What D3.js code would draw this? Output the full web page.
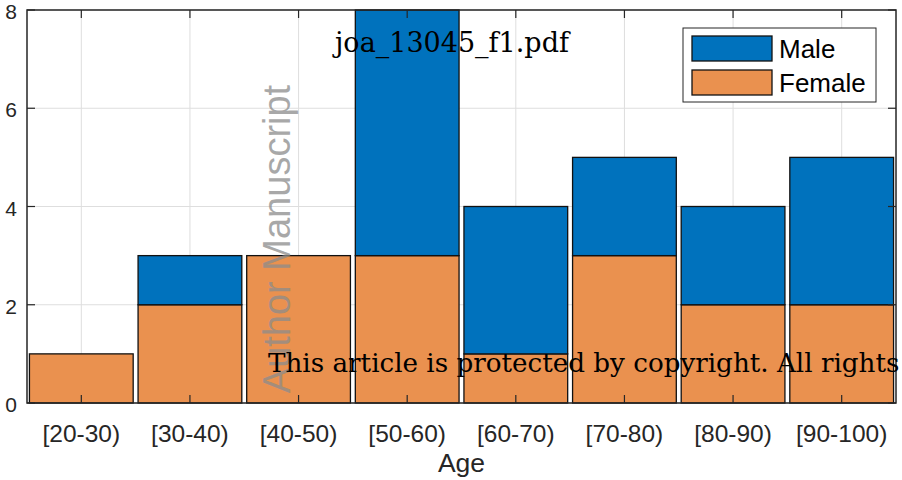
<!DOCTYPE html>
<html>
<head>
<meta charset="utf-8">
<script src="https://cdn.jsdelivr.net/npm/d3@7"></script>
<style>
  body { margin: 0; background: #fff; }
  svg { display: block; }
</style>
</head>
<body>
<svg id="chart" width="902" height="480"></svg>
<script>
// data
const categories = ["[20-30)", "[30-40)", "[40-50)", "[50-60)", "[60-70)", "[70-80)", "[80-90)", "[90-100)"];
const female = [1, 2, 3, 3, 1, 3, 2, 2];
const male = [0, 1, 0, 5, 3, 2, 2, 3];
const yTicks = [0, 2, 4, 6, 8];
const seriesNames = ["Male", "Female"];

const colors = { Male: "#0072BD", Female: "#EA914F" };

let margin = {top: 10, right: 6, bottom: 77, left: 27},
  width = 902 - margin.left - margin.right,
  height = 480 - margin.top - margin.bottom;

let svg = d3.select("#chart");
let g = svg.append("g").attr("transform", `translate(${margin.left}, ${margin.top})`);

let x = d3.scaleBand()
  .domain(categories)
  .range([0, width])
  .paddingInner(0.045)
  .paddingOuter(0.0225);

let y = d3.scaleLinear()
  .domain([0, 8])
  .range([height, 0]);

// grid
g.selectAll(".vgrid")
  .data(categories)
  .join("line")
  .attr("class", "vgrid")
  .attr("x1", d => x(d) + x.bandwidth() / 2)
  .attr("x2", d => x(d) + x.bandwidth() / 2)
  .attr("y1", 0)
  .attr("y2", height)
  .attr("stroke", "#dedede")
  .attr("stroke-width", 1);

g.selectAll(".hgrid")
  .data(yTicks)
  .join("line")
  .attr("class", "hgrid")
  .attr("x1", 0)
  .attr("x2", width)
  .attr("y1", d => y(d))
  .attr("y2", d => y(d))
  .attr("stroke", "#dedede")
  .attr("stroke-width", 1);

// stacked bars, female at the bottom
let rows = categories.map((c, i) => ({cat: c, Female: female[i], Male: male[i]}));
let stack = d3.stack().keys(["Female", "Male"])(rows);

g.selectAll(".layer")
  .data(stack)
  .join("g")
  .attr("class", "layer")
  .attr("fill", d => colors[d.key])
  .selectAll("rect")
  .data(d => d.filter(p => p[1] > p[0]))
  .join("rect")
  .attr("x", d => x(d.data.cat))
  .attr("y", d => y(d[1]))
  .attr("width", x.bandwidth())
  .attr("height", d => y(d[0]) - y(d[1]))
  .attr("stroke", "#111")
  .attr("stroke-width", 1.3);

// axes box with inward ticks
let axisColor = "#262626";
let xCenters = categories.map(c => x(c) + x.bandwidth() / 2);

g.append("rect")
  .attr("x", 0).attr("y", 0)
  .attr("width", width).attr("height", height)
  .attr("fill", "none")
  .attr("stroke", axisColor)
  .attr("stroke-width", 1.5);

xCenters.forEach(cx => {
  g.append("line").attr("x1", cx).attr("x2", cx).attr("y1", height).attr("y2", height - 8)
    .attr("stroke", axisColor).attr("stroke-width", 1.2);
  g.append("line").attr("x1", cx).attr("x2", cx).attr("y1", 0).attr("y2", 8)
    .attr("stroke", axisColor).attr("stroke-width", 1.2);
});
yTicks.forEach(t => {
  g.append("line").attr("x1", 0).attr("x2", 8).attr("y1", y(t)).attr("y2", y(t))
    .attr("stroke", axisColor).attr("stroke-width", 1.2);
  g.append("line").attr("x1", width).attr("x2", width - 8).attr("y1", y(t)).attr("y2", y(t))
    .attr("stroke", axisColor).attr("stroke-width", 1.2);
});

// tick labels
g.selectAll(".xlabel")
  .data(categories)
  .join("text")
  .attr("class", "xlabel")
  .attr("x", d => x(d) + x.bandwidth() / 2)
  .attr("y", height + 39)
  .attr("text-anchor", "middle")
  .attr("font-family", "Liberation Sans, Arial, sans-serif")
  .attr("font-size", 24.5)
  .attr("fill", axisColor)
  .text(d => d);

g.selectAll(".ylabel")
  .data(yTicks)
  .join("text")
  .attr("class", "ylabel")
  .attr("x", -10)
  .attr("y", d => y(d) + 9)
  .attr("text-anchor", "end")
  .attr("font-family", "Liberation Sans, Arial, sans-serif")
  .attr("font-size", 21)
  .attr("fill", axisColor)
  .text(d => d);

g.append("text")
  .attr("x", width / 2)
  .attr("y", height + 69)
  .attr("text-anchor", "middle")
  .attr("font-family", "Liberation Sans, Arial, sans-serif")
  .attr("font-size", 26.5)
  .attr("fill", axisColor)
  .text("Age");

// legend
let legend = svg.append("g").attr("transform", "translate(683, 28)");
legend.append("rect")
  .attr("width", 193).attr("height", 74)
  .attr("fill", "#fff")
  .attr("stroke", axisColor)
  .attr("stroke-width", 1);
seriesNames.forEach((name, i) => {
  legend.append("rect")
    .attr("x", 9).attr("y", 8 + i * 34)
    .attr("width", 80).attr("height", 25)
    .attr("fill", colors[name])
    .attr("stroke", "#111")
    .attr("stroke-width", 1.3);
  legend.append("text")
    .attr("x", 96).attr("y", 30 + i * 34)
    .attr("font-family", "Liberation Sans, Arial, sans-serif")
    .attr("font-size", 26)
    .attr("fill", "#000")
    .text(name);
});

// overlaid manuscript texts
svg.append("text")
  .attr("x", 335).attr("y", 52)
  .attr("font-family", "DejaVu Serif, Liberation Serif, serif")
  .attr("font-size", 27)
  .attr("fill", "#000")
  .text("joa_13045_f1.pdf");

svg.append("text")
  .attr("transform", "translate(290, 239) rotate(-90)")
  .attr("text-anchor", "middle")
  .attr("font-family", "Liberation Sans, Arial, sans-serif")
  .attr("font-size", 38)
  .attr("fill", "#8c8c8c")
  .attr("fill-opacity", 0.75)
  .text("Author Manuscript");

svg.append("text")
  .attr("x", 268).attr("y", 372)
  .attr("font-family", "DejaVu Serif, Liberation Serif, serif")
  .attr("font-size", 26.2)
  .attr("fill", "#000")
  .text("This article is protected by copyright. All rights");
</script>
</body>
</html>
